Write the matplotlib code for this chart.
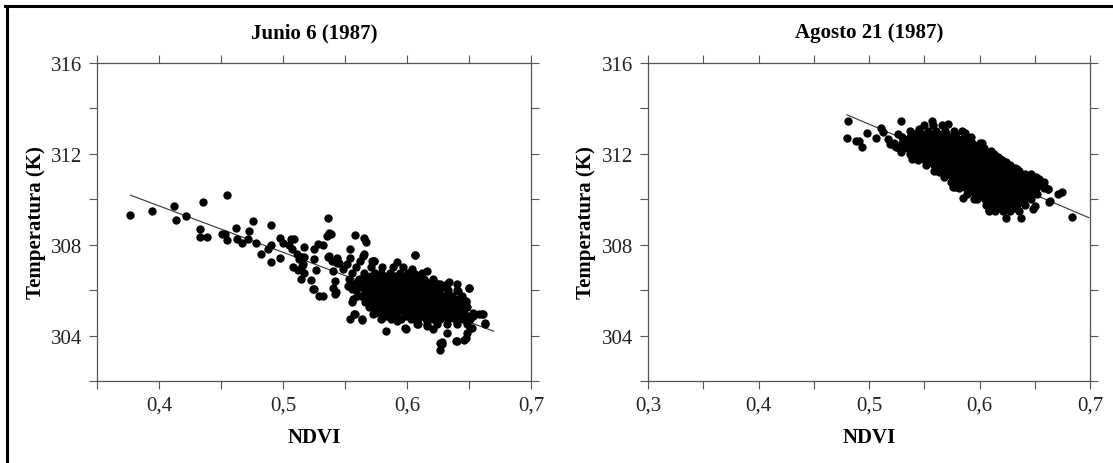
import matplotlib
matplotlib.use("Agg")
import matplotlib.pyplot as plt
from matplotlib.lines import Line2D
import numpy as np

# --- data ------------------------------------------------------------------
titles = ["Junio 6 (1987)", "Agosto 21 (1987)"]
x_label = "NDVI"
y_label = "Temperatura (K)"

yticks = [302, 304, 306, 308, 310, 312, 314, 316]
ytick_labels = ["", "304", "", "308", "", "312", "", "316"]
junio_xticks = [0.35, 0.40, 0.45, 0.50, 0.55, 0.60, 0.65, 0.70]
junio_xtick_labels = ["", "0,4", "", "0,5", "", "0,6", "", "0,7"]
agosto_xticks = [0.30, 0.35, 0.40, 0.45, 0.50, 0.55, 0.60, 0.65, 0.70]
agosto_xtick_labels = ["0,3", "", "0,4", "", "0,5", "", "0,6", "", "0,7"]

# fitted lines (end points)
junio_line_x = [0.377, 0.670]
junio_line_y = [310.18, 304.19]
agosto_line_x = [0.480, 0.699]
agosto_line_y = [313.72, 309.19]

# isolated points, (ndvi, temperatura)
junio_sparse = [
    (0.3769, 309.31), (0.3941, 309.47), (0.4121, 309.69), (0.4137, 309.09), (0.4220, 309.25),
    (0.4352, 309.87), (0.4548, 310.18), (0.4333, 308.68), (0.4331, 308.36), (0.4390, 308.32),
    (0.4508, 308.46), (0.4530, 308.49), (0.4548, 308.21), (0.4623, 308.75), (0.4627, 308.24),
    (0.4667, 308.09), (0.4723, 308.59), (0.4718, 308.27), (0.4761, 309.04), (0.4782, 308.09),
    (0.4820, 307.61), (0.4901, 308.87), (0.4879, 307.83), (0.4901, 308.00), (0.4901, 307.25),
    (0.4973, 308.30), (0.4976, 307.43), (0.4998, 308.09), (0.5062, 308.24), (0.5089, 308.27),
    (0.5051, 307.97), (0.5070, 307.80), (0.5083, 307.01), (0.5115, 307.58), (0.5132, 307.39),
    (0.5169, 307.88), (0.5151, 307.06), (0.5169, 306.77), (0.5145, 306.47), (0.5226, 306.44),
    (0.5248, 306.06), (0.5288, 305.74), (0.5320, 305.74), (0.5266, 306.87), (0.5248, 307.35),
    (0.5248, 307.80), (0.5285, 308.05), (0.5320, 307.97), (0.5363, 309.16), (0.5352, 308.38),
    (0.5365, 307.46), (0.5123, 306.88), (0.5371, 308.53), (0.5385, 308.46), (0.5578, 308.43),
    (0.5655, 308.28), (0.5667, 308.12), (0.5537, 307.83), (0.6068, 307.54), (0.6165, 306.84),
    (0.6341, 306.37), (0.6500, 306.11), (0.6476, 305.47), (0.6626, 304.56), (0.6577, 304.97),
    (0.6612, 304.97), (0.6524, 304.34), (0.6462, 303.79), (0.6476, 303.90), (0.6393, 303.75),
    (0.6266, 303.35), (0.6266, 303.68), (0.6282, 303.71), (0.5828, 304.19), (0.5987, 304.34),
    (0.5540, 304.75), (0.5575, 304.93), (0.5638, 304.68), (0.5555, 305.47), (0.5419, 305.81),
    (0.5244, 306.03), (0.5151, 307.47), (0.5169, 307.47), (0.5164, 307.13), (0.5373, 307.50),
    (0.5393, 307.28), (0.5433, 307.21), (0.5406, 306.84), (0.5419, 306.40), (0.5406, 306.10),
    (0.5427, 305.91), (0.5540, 307.43), (0.5514, 307.13), (0.5486, 306.91), (0.5621, 307.28),
    (0.5648, 307.50), (0.5715, 307.28), (0.5734, 307.28), (0.5917, 307.24), (0.6065, 307.53),
    (0.6038, 306.91), (0.6065, 306.69), (0.6212, 306.33), (0.6266, 306.25), (0.6401, 306.25),
    (0.6414, 305.96), (0.6497, 306.10), (0.6473, 305.52), (0.6535, 304.85), (0.6602, 304.97),
    (0.6629, 304.53), (0.6508, 304.34), (0.6481, 304.12), (0.6401, 303.78), (0.6280, 303.65),
    (0.6320, 304.12), (0.6212, 304.27), (0.6159, 304.41), (0.6091, 304.49), (0.5992, 304.31),
    (0.5917, 304.64), (0.5634, 304.71), (0.5581, 304.96), (0.5728, 304.93), (0.5796, 304.78),
    (0.5728, 305.29), (0.5715, 305.59), (0.5688, 305.96), (0.5567, 305.59), (0.5594, 305.74),
    (0.5554, 306.03), (0.5527, 306.18), (0.5655, 307.58), (0.5736, 307.28), (0.5436, 307.43),
    (0.5452, 307.21),
]

# dense cloud, one temperature per row and the ndvi values on that row
junio_cloud_temp = [307.0, 306.75, 306.625, 306.5, 306.375, 306.25, 306.125, 306.0, 305.875,
                    305.75, 305.625, 305.5, 305.375, 305.25, 305.125, 305.0, 304.875, 304.75, 304.5]
junio_cloud_ndvi = [
    [0.559, 0.571, 0.580, 0.589, 0.597],
    [0.556, 0.565, 0.574, 0.579, 0.586, 0.594, 0.601, 0.612],
    [0.565, 0.571, 0.578, 0.584, 0.590, 0.596, 0.603, 0.610],
    [0.553, 0.561, 0.568, 0.575, 0.581, 0.587, 0.593, 0.599, 0.606, 0.614, 0.621],
    [0.560, 0.567, 0.573, 0.579, 0.585, 0.591, 0.597, 0.603, 0.609, 0.615, 0.622],
    [0.556, 0.564, 0.570, 0.576, 0.582, 0.588, 0.594, 0.600, 0.606, 0.612, 0.618, 0.625, 0.632],
    [0.562, 0.569, 0.575, 0.581, 0.587, 0.593, 0.599, 0.605, 0.611, 0.617, 0.623, 0.630],
    [0.559, 0.566, 0.572, 0.578, 0.584, 0.590, 0.596, 0.602, 0.608, 0.614, 0.620, 0.626, 0.633, 0.640],
    [0.566, 0.572, 0.578, 0.584, 0.590, 0.596, 0.602, 0.608, 0.614, 0.620, 0.626, 0.633],
    [0.563, 0.569, 0.575, 0.581, 0.587, 0.593, 0.599, 0.605, 0.611, 0.617, 0.623, 0.629, 0.636, 0.644],
    [0.569, 0.575, 0.581, 0.587, 0.593, 0.599, 0.605, 0.611, 0.617, 0.623, 0.629, 0.635, 0.641],
    [0.566, 0.572, 0.578, 0.584, 0.590, 0.596, 0.602, 0.608, 0.614, 0.620, 0.626, 0.632, 0.638, 0.645],
    [0.572, 0.578, 0.584, 0.590, 0.596, 0.602, 0.608, 0.614, 0.620, 0.626, 0.632, 0.638, 0.644],
    [0.569, 0.575, 0.581, 0.587, 0.593, 0.599, 0.605, 0.611, 0.617, 0.623, 0.629, 0.635, 0.641, 0.648],
    [0.577, 0.583, 0.589, 0.595, 0.601, 0.607, 0.613, 0.619, 0.625, 0.631, 0.637, 0.643],
    [0.574, 0.580, 0.586, 0.592, 0.598, 0.604, 0.610, 0.616, 0.622, 0.628, 0.634, 0.640, 0.646, 0.653],
    [0.584, 0.591, 0.599, 0.606, 0.612, 0.618, 0.624, 0.630, 0.636, 0.642, 0.648],
    [0.579, 0.587, 0.595, 0.603, 0.609, 0.615, 0.621, 0.627, 0.633, 0.639, 0.645, 0.651],
    [0.608, 0.616, 0.624, 0.632, 0.640, 0.648],
]

agosto_sparse = [
    (0.4806, 313.43), (0.4801, 312.72), (0.4881, 312.57), (0.4913, 312.57), (0.4937, 312.31),
    (0.4985, 312.94), (0.5059, 312.68), (0.5108, 313.16), (0.5130, 312.97), (0.5168, 312.65),
    (0.5194, 312.43), (0.5243, 312.28), (0.5259, 312.87), (0.5291, 313.46), (0.5291, 312.10),
    (0.5371, 312.72), (0.5389, 311.77), (0.5452, 313.09), (0.5566, 313.46), (0.5711, 313.31),
    (0.5631, 311.18), (0.5760, 310.55), (0.5851, 310.04), (0.5954, 310.00), (0.5873, 312.94),
    (0.6019, 312.50), (0.6083, 309.49), (0.6239, 309.16), (0.6375, 309.16), (0.6488, 309.56),
    (0.6503, 309.71), (0.6633, 309.86), (0.6616, 310.44), (0.6585, 310.59), (0.6707, 310.22),
    (0.6745, 310.30), (0.6836, 309.22), (0.6529, 310.74), (0.6623, 310.44), (0.6638, 309.93),
    (0.6089, 309.52), (0.5778, 310.52), (0.5959, 312.35), (0.5884, 312.06), (0.6186, 311.77),
    (0.6337, 311.32), (0.6472, 311.03), (0.6548, 310.74), (0.5205, 312.43), (0.5235, 312.35),
]

agosto_cloud_temp = [313.25, 313.0, 312.875, 312.75, 312.625, 312.5, 312.375, 312.25, 312.125,
                     312.0, 311.875, 311.75, 311.625, 311.5, 311.375, 311.25, 311.125, 311.0,
                     310.875, 310.75, 310.625, 310.5, 310.375, 310.25, 310.125, 310.0, 309.875,
                     309.75, 309.625, 309.5]
agosto_cloud_ndvi = [
    [0.550, 0.558, 0.566],
    [0.537, 0.545, 0.553, 0.561, 0.569, 0.577, 0.584],
    [0.541, 0.548, 0.555, 0.562, 0.570, 0.578],
    [0.530, 0.537, 0.544, 0.551, 0.558, 0.565, 0.572, 0.579, 0.586, 0.592],
    [0.534, 0.541, 0.548, 0.555, 0.562, 0.569, 0.576, 0.583, 0.590],
    [0.523, 0.530, 0.537, 0.544, 0.551, 0.558, 0.565, 0.572, 0.579, 0.586, 0.593, 0.600],
    [0.531, 0.538, 0.545, 0.552, 0.559, 0.566, 0.573, 0.580, 0.587, 0.594, 0.600],
    [0.527, 0.534, 0.541, 0.548, 0.555, 0.562, 0.569, 0.576, 0.583, 0.590, 0.597, 0.604],
    [0.541, 0.548, 0.555, 0.562, 0.569, 0.576, 0.583, 0.590, 0.597, 0.604, 0.610],
    [0.537, 0.544, 0.551, 0.558, 0.565, 0.572, 0.579, 0.586, 0.593, 0.600, 0.607, 0.613],
    [0.548, 0.555, 0.562, 0.569, 0.576, 0.583, 0.590, 0.597, 0.604, 0.611, 0.617],
    [0.544, 0.551, 0.558, 0.565, 0.572, 0.579, 0.586, 0.593, 0.600, 0.607, 0.614, 0.620],
    [0.555, 0.562, 0.569, 0.576, 0.583, 0.590, 0.597, 0.604, 0.611, 0.618, 0.624],
    [0.552, 0.559, 0.566, 0.573, 0.580, 0.587, 0.594, 0.601, 0.608, 0.615, 0.622, 0.628],
    [0.563, 0.570, 0.577, 0.584, 0.591, 0.598, 0.605, 0.612, 0.619, 0.626, 0.632],
    [0.559, 0.566, 0.573, 0.580, 0.587, 0.594, 0.601, 0.608, 0.615, 0.622, 0.629, 0.636],
    [0.571, 0.578, 0.585, 0.592, 0.599, 0.606, 0.613, 0.620, 0.627, 0.634, 0.641, 0.647],
    [0.568, 0.575, 0.582, 0.589, 0.596, 0.603, 0.610, 0.617, 0.624, 0.631, 0.638, 0.645, 0.651],
    [0.578, 0.585, 0.592, 0.599, 0.606, 0.613, 0.620, 0.627, 0.634, 0.641, 0.648, 0.654],
    [0.574, 0.581, 0.588, 0.595, 0.602, 0.609, 0.616, 0.623, 0.630, 0.637, 0.644, 0.651, 0.658],
    [0.585, 0.592, 0.599, 0.606, 0.613, 0.620, 0.627, 0.634, 0.641, 0.648, 0.655],
    [0.581, 0.588, 0.595, 0.602, 0.609, 0.616, 0.623, 0.630, 0.637, 0.644, 0.651, 0.658],
    [0.593, 0.600, 0.607, 0.614, 0.621, 0.628, 0.635, 0.642, 0.649],
    [0.589, 0.596, 0.603, 0.610, 0.617, 0.624, 0.631, 0.638, 0.645, 0.652],
    [0.602, 0.609, 0.616, 0.623, 0.630, 0.637, 0.644],
    [0.598, 0.605, 0.612, 0.619, 0.626, 0.633, 0.640, 0.647],
    [0.610, 0.617, 0.624, 0.631, 0.638],
    [0.606, 0.613, 0.620, 0.627, 0.634, 0.641],
    [0.618, 0.625, 0.632],
    [0.614, 0.621, 0.628, 0.636],
]


def collect(sparse, cloud_temp, cloud_ndvi):
    xs = [p[0] for p in sparse]
    ys = [p[1] for p in sparse]
    for t, row in zip(cloud_temp, cloud_ndvi):
        xs += row
        ys += [t] * len(row)
    return np.array(xs), np.array(ys)


plt.rcParams['font.family'] = ['Liberation Serif', 'DejaVu Serif']
axis_grey = '#555555'

fig = plt.figure(figsize=(11.13, 4.64), dpi=100)
ax1 = fig.add_axes([97 / 1113, 1 - 382 / 464, 434 / 1113, 318 / 464])
ax2 = fig.add_axes([648 / 1113, 1 - 382 / 464, 442 / 1113, 318 / 464])

panels = [
    (ax1, junio_sparse, junio_cloud_temp, junio_cloud_ndvi, junio_line_x, junio_line_y,
     junio_xticks, junio_xtick_labels, (0.35, 0.70)),
    (ax2, agosto_sparse, agosto_cloud_temp, agosto_cloud_ndvi, agosto_line_x, agosto_line_y,
     agosto_xticks, agosto_xtick_labels, (0.30, 0.70)),
]

for i, (ax, sp, ct, cn, lx, ly, xt, xtl, xl) in enumerate(panels):
    x, y = collect(sp, ct, cn)
    ax.scatter(x, y, s=36, c='black', linewidths=0, zorder=2)
    ax.plot(lx, ly, color='#333333', linewidth=0.8, zorder=1)

    ax.set_xlim(*xl)
    ax.set_ylim(302, 316)
    ax.set_xticks(xt, xtl)
    ax.set_yticks(yticks, ytick_labels)
    ax.tick_params(direction='out', length=6.1, width=0.8, color=axis_grey,
                   top=True, right=True, labelsize=15, labelcolor='#222222', pad=4.4)
    for s in ax.spines.values():
        s.set_color(axis_grey)
        s.set_linewidth(0.9)

    ax.text(0.5, 1.0975, titles[i], transform=ax.transAxes, ha='center', va='center',
            fontsize=15, fontweight='bold')
    ax.set_xlabel(x_label, fontsize=15, fontweight='bold')
    ax.xaxis.set_label_coords(0.5, -0.145)
    ax.set_ylabel(y_label, fontsize=15, fontweight='bold')
    ax.yaxis.set_label_coords(-0.118, 0.5)

# frame lines at the left and top of the picture
fig.add_artist(Line2D([6.5 / 1113, 6.5 / 1113], [0, 1 - 6.5 / 464], color='black', linewidth=2.2))
fig.add_artist(Line2D([6.5 / 1113 - 0.001, 1], [1 - 6.5 / 464, 1 - 6.5 / 464], color='black', linewidth=2.2))

fig.savefig('out.png', dpi=100)
